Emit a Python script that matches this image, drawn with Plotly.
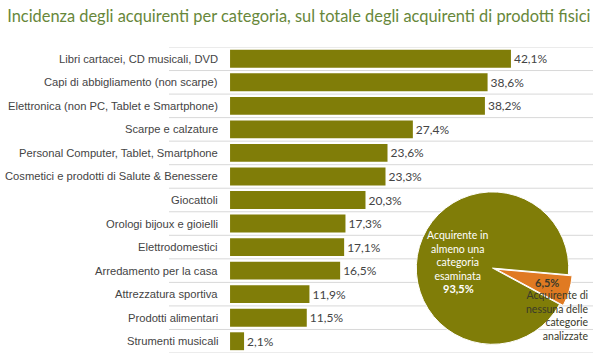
import plotly.graph_objects as go

title = "Incidenza degli acquirenti per categoria, sul totale degli acquirenti di prodotti fisici"
categories = [
    "Libri cartacei, CD musicali, DVD",
    "Capi di abbigliamento (non scarpe)",
    "Elettronica (non PC, Tablet e Smartphone)",
    "Scarpe e calzature",
    "Personal Computer, Tablet, Smartphone",
    "Cosmetici e prodotti di Salute & Benessere",
    "Giocattoli",
    "Orologi bijoux e gioielli",
    "Elettrodomestici",
    "Arredamento per la casa",
    "Attrezzatura sportiva",
    "Prodotti alimentari",
    "Strumenti musicali",
]
values = [42.1, 38.6, 38.2, 27.4, 23.6, 23.3, 20.3, 17.3, 17.1, 16.5, 11.9, 11.5, 2.1]

pie_labels = ["Acquirente di nessuna delle categorie analizzate",
              "Acquirente in almeno una categoria esaminata"]
pie_values = [6.5, 93.5]

OLIVE = "#807d08"
ORANGE = "#e07a22"
X_RANGE = [-9.15, 54.4]

def fmt(v):
    return f"{v:.1f}%".replace(".", ",")

n = len(categories)
pos = list(range(n))

fig = go.Figure()

# row separator lines (between rows, as a line trace drawn under the bars)
sep_x, sep_y = [], []
for i in range(n + 1):
    sep_x += [X_RANGE[0], X_RANGE[1], None]
    sep_y += [i - 0.5, i - 0.5, None]
fig.add_trace(go.Scatter(x=sep_x, y=sep_y, mode="lines",
                         line=dict(color="#d8d8d8", width=1),
                         hoverinfo="skip", showlegend=False, cliponaxis=False))

fig.add_trace(go.Bar(
    y=pos, x=values, orientation="h",
    marker=dict(color=OLIVE, line=dict(width=0)),
    width=0.76,
    text=[fmt(v) for v in values], textposition="outside",
    outsidetextfont=dict(family="Lato", size=12, color="#444444"),
    cliponaxis=False, hoverinfo="skip",
))

fig.add_trace(go.Pie(
    labels=pie_labels, values=pie_values,
    marker=dict(colors=[ORANGE, OLIVE], line=dict(color="white", width=1)),
    sort=False, direction="clockwise", rotation=95,
    pull=[0.05, 0], textinfo="none", showlegend=False, hoverinfo="skip",
    domain=dict(x=[0.574, 0.952], y=[0.016, 0.539]),
))

# category labels
for p, c in zip(pos, categories):
    fig.add_annotation(x=0, y=p, xref="x", yref="y", text=c, showarrow=False,
                       xanchor="right", xshift=-10,
                       font=dict(family="Liberation Sans", size=11.2, color="#444444"))

# pie labels
fig.add_annotation(xref="paper", yref="paper", x=0.682, y=0.317,
                   text="Acquirente in<br>almeno una<br>categoria<br>esaminata",
                   showarrow=False, xanchor="center", yanchor="middle",
                   font=dict(family="Lato", size=10.5, color="white"))
fig.add_annotation(xref="paper", yref="paper", x=0.682, y=0.212,
                   text="<b>" + fmt(pie_values[1]) + "</b>",
                   showarrow=False, xanchor="center", yanchor="middle",
                   font=dict(family="Lato", size=11, color="white"))
fig.add_annotation(xref="paper", yref="paper", x=0.892, y=0.232,
                   text="<b>" + fmt(pie_values[0]) + "</b>",
                   showarrow=False, xanchor="center", yanchor="middle",
                   font=dict(family="Lato", size=11, color="#3a3a2a"))
fig.add_annotation(xref="paper", yref="paper", x=0.995, y=0.124,
                   text="Acquirente di<br>nessuna delle<br>categorie<br>analizzate",
                   showarrow=False, xanchor="right", yanchor="middle", align="right",
                   font=dict(family="Lato", size=10.5, color="#3a3a2a"))

fig.update_layout(
    width=600, height=360,
    margin=dict(l=169, r=7, t=47, b=7),
    paper_bgcolor="white", plot_bgcolor="white",
    showlegend=False,
    title=dict(text=title, x=0.012, xanchor="left", y=0.955, yanchor="middle",
               font=dict(family="Lato", size=16.4, color="#67873a")),
    xaxis=dict(range=X_RANGE, visible=False, showgrid=False, zeroline=False),
    yaxis=dict(range=[n - 0.5, -0.5], visible=False, showgrid=False, zeroline=False),
    bargap=0.24,
)

fig.write_html("out.html", config={"displayModeBar": False},
               post_script="document.body.style.margin='0';")
